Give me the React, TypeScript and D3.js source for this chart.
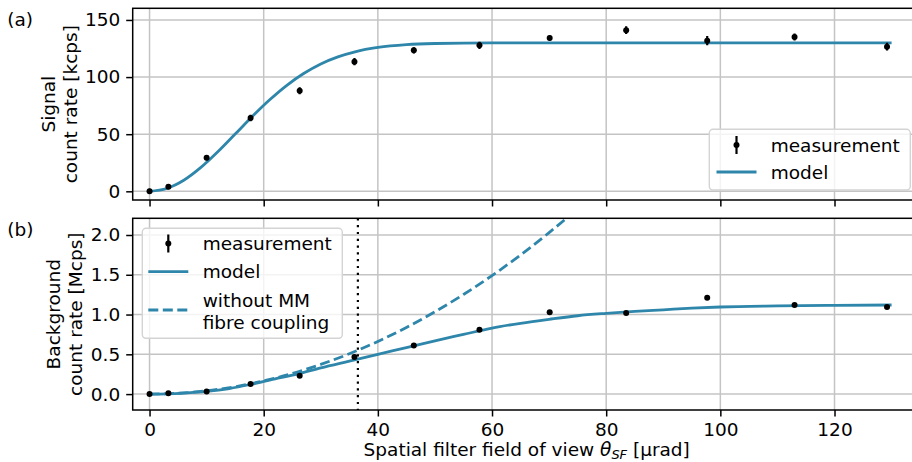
import { useEffect, useRef } from 'react';
import * as d3 from 'd3';

const W = 912, H = 462;
const FONT = '"DejaVu Sans", sans-serif';
const FS = 18.5;
const BLUE = '#2e86ab';
const GRID = '#c4c4c4';

// measurement positions (µrad) shared by both panels
const THETA = [0, 3.3, 10.0, 17.7, 26.3, 35.9, 46.3, 57.8, 70.1, 83.5, 97.7, 113.0, 129.2];
const SIGNAL = [0, 4.0, 29.4, 64.2, 88.1, 113.5, 123.4, 127.8, 134.2, 141.0, 131.9, 135.1, 126.6];
const SIGNAL_ERR = [2.2, 2.2, 2.3, 2.8, 3.1, 3.2, 2.8, 3.2, 2.2, 3.4, 4.1, 3.1, 3.4];
const BACKGROUND = [0, 0.01, 0.034, 0.126, 0.23, 0.465, 0.61, 0.809, 1.03, 1.02, 1.21, 1.12, 1.094];
const BACKGROUND_ERR = [0.004, 0.004, 0.005, 0.006, 0.007, 0.008, 0.009, 0.01, 0.01, 0.01, 0.012, 0.011, 0.011];

// model curves
const SIG_MODEL_X = [0, 3, 6, 9, 12, 15, 18, 21, 24, 27, 30, 33, 36, 40, 45, 50, 60, 70, 80, 90, 100, 110, 120, 130];
const SIG_MODEL = [0, 2.5, 9.7, 20.9, 34.8, 50.1, 65.5, 79.9, 92.6, 103.1, 111.5, 117.7, 122.1, 125.9, 128.4, 129.4, 130, 130, 130, 130, 130, 130, 130, 130];
const BG_MODEL_X = [0, 3, 6, 10, 14, 18, 22, 26, 30, 35, 40, 45, 50, 55, 60, 65, 70, 75, 80, 85, 90, 95, 100, 110, 120, 130];
const BG_MODEL = [0, 0.003, 0.012, 0.033, 0.07, 0.126, 0.19, 0.255, 0.33, 0.415, 0.5, 0.585, 0.67, 0.75, 0.83, 0.89, 0.94, 0.985, 1.015, 1.04, 1.06, 1.08, 1.095, 1.108, 1.115, 1.12];
const BG_NOMM_X = [0, 5, 10, 15, 20, 25, 30, 35, 40, 45, 50, 55, 60, 65, 70, 75];
const BG_NOMM = [0, 0.0104, 0.041, 0.093, 0.166, 0.259, 0.373, 0.507, 0.662, 0.838, 1.035, 1.252, 1.49, 1.749, 2.03, 2.33];
const FOV_LIMIT = 36.5;

const X_TICKS = [0, 20, 40, 60, 80, 100, 120];
const SIG_TICKS = [0, 50, 100, 150];
const BG_TICKS = [0, 0.5, 1.0, 1.5, 2.0];

export default function App() {
  const ref = useRef<SVGSVGElement>(null);
  useEffect(() => {
    const svg = d3.select(ref.current); svg.selectAll('*').remove();
    const L = 132.7, R = 920.7;
    const x = d3.scaleLinear().domain([-2.95, 135.1]).range([L, R]);

    const panel = (id: string, top: number, bottom: number, dom: number[], ticks: number[], fmt: (d: any) => string, xLabels: boolean) => {
      const y = d3.scaleLinear().domain(dom).range([bottom, top]);
      svg.append('clipPath').attr('id', id).append('rect')
        .attr('x', L).attr('y', top).attr('width', R - L).attr('height', bottom - top);
      const g = svg.append('g');
      g.selectAll('.gx').data(X_TICKS).join('line')
        .attr('x1', d => x(d)).attr('x2', d => x(d)).attr('y1', top).attr('y2', bottom)
        .attr('stroke', GRID).attr('stroke-width', 1.5);
      g.selectAll('.gy').data(ticks).join('line')
        .attr('x1', L).attr('x2', R).attr('y1', d => y(d)).attr('y2', d => y(d))
        .attr('stroke', GRID).attr('stroke-width', 1.5);
      const ax = svg.append('g').attr('transform', `translate(0,${bottom})`)
        .call(d3.axisBottom(x).tickValues(X_TICKS).tickSize(6.5).tickPadding(6).tickFormat(xLabels ? (d: any) => `${d}` : () => ''));
      const ay = svg.append('g').attr('transform', `translate(${L},0)`)
        .call(d3.axisLeft(y).tickValues(ticks).tickSize(6.5).tickPadding(6).tickFormat(fmt));
      [ax, ay].forEach(a => {
        a.select('.domain').remove();
        a.selectAll('line').attr('stroke', '#000').attr('stroke-width', 1.5);
        a.selectAll('text').attr('fill', '#000').attr('font-size', FS).attr('font-family', FONT);
      });
      const data = svg.append('g').attr('clip-path', `url(#${id})`);
      return { y, data };
    };

    const sig = panel('clipA', 8.3, 200, [-7.6, 160.2], SIG_TICKS, d => `${d}`, false);
    const bg = panel('clipB', 218.3, 410, [-0.2, 2.21], BG_TICKS, d => d3.format('.1f')(d), true);

    const line = (xs: number[], ys: number[], y: any) =>
      d3.line<number>().x((_, i) => x(xs[i])).y(d => y(d)).curve(d3.curveMonotoneX)(ys);

    // panel (a)
    sig.data.append('path').attr('d', line(SIG_MODEL_X, SIG_MODEL, sig.y))
      .attr('fill', 'none').attr('stroke', BLUE).attr('stroke-width', 2.8);
    sig.data.selectAll('.e').data(SIGNAL).join('line')
      .attr('x1', (_, i) => x(THETA[i])).attr('x2', (_, i) => x(THETA[i]))
      .attr('y1', (d, i) => sig.y(d - SIGNAL_ERR[i])).attr('y2', (d, i) => sig.y(d + SIGNAL_ERR[i]))
      .attr('stroke', '#000').attr('stroke-width', 2.2);
    sig.data.selectAll('.p').data(SIGNAL).join('circle')
      .attr('cx', (_, i) => x(THETA[i])).attr('cy', d => sig.y(d)).attr('r', 3).attr('fill', '#000');

    // panel (b)
    bg.data.append('line').attr('x1', x(FOV_LIMIT)).attr('x2', x(FOV_LIMIT)).attr('y1', 218.3).attr('y2', 410)
      .attr('stroke', '#000').attr('stroke-width', 2.2).attr('stroke-dasharray', '2.2,4.6');
    bg.data.append('path').attr('d', line(BG_NOMM_X, BG_NOMM, bg.y))
      .attr('fill', 'none').attr('stroke', BLUE).attr('stroke-width', 2.8).attr('stroke-dasharray', '10,4.5');
    bg.data.append('path').attr('d', line(BG_MODEL_X, BG_MODEL, bg.y))
      .attr('fill', 'none').attr('stroke', BLUE).attr('stroke-width', 2.8);
    bg.data.selectAll('.e').data(BACKGROUND).join('line')
      .attr('x1', (_, i) => x(THETA[i])).attr('x2', (_, i) => x(THETA[i]))
      .attr('y1', (d, i) => bg.y(d - BACKGROUND_ERR[i])).attr('y2', (d, i) => bg.y(d + BACKGROUND_ERR[i]))
      .attr('stroke', '#000').attr('stroke-width', 2.2);
    bg.data.selectAll('.p').data(BACKGROUND).join('circle')
      .attr('cx', (_, i) => x(THETA[i])).attr('cy', d => bg.y(d)).attr('r', 3).attr('fill', '#000');

    // spines
    [[8.3, 200], [218.3, 410]].forEach(([t, b]) =>
      svg.append('rect').attr('x', L).attr('y', t).attr('width', R - L).attr('height', b - t)
        .attr('fill', 'none').attr('stroke', '#000').attr('stroke-width', 1.5));

    const text = (s: string, tx: number, ty: number, rot = 0, anchor = 'start') =>
      svg.append('text').attr('transform', `translate(${tx},${ty}) rotate(${rot})`)
        .attr('text-anchor', anchor).attr('font-size', FS).attr('font-family', FONT).attr('fill', '#000').text(s);

    // legends
    const legend = (x0: number, y0: number, w: number, h: number) => {
      const g = svg.append('g');
      g.append('rect').attr('x', x0).attr('y', y0).attr('width', w).attr('height', h).attr('rx', 3.7)
        .attr('fill', '#fff').attr('fill-opacity', 0.8).attr('stroke', '#d4d4d4').attr('stroke-width', 1.4);
      return g;
    };
    const errHandle = (cx: number, cy: number) => {
      svg.append('line').attr('x1', cx).attr('x2', cx).attr('y1', cy - 9).attr('y2', cy + 9)
        .attr('stroke', '#000').attr('stroke-width', 2.2);
      svg.append('circle').attr('cx', cx).attr('cy', cy).attr('r', 3).attr('fill', '#000');
    };
    const lineHandle = (x0: number, cy: number, dash?: string) =>
      svg.append('line').attr('x1', x0).attr('x2', x0 + 40).attr('y1', cy).attr('y2', cy)
        .attr('stroke', BLUE).attr('stroke-width', 2.8).attr('stroke-dasharray', dash || null);

    legend(709.3, 129.3, 201, 60.7);
    errHandle(736.5, 145);
    text('measurement', 770.7, 151.5);
    lineHandle(716.5, 172);
    text('model', 770.7, 178.5);

    legend(142.3, 228.3, 200, 110);
    errHandle(168.3, 243.5);
    text('measurement', 202.7, 250);
    lineHandle(148.3, 271.7);
    text('model', 202.7, 278);
    lineHandle(148.3, 310, '10,4.5');
    text('without MM', 202.7, 306.5);
    text('fibre coupling', 202.7, 328.7);

    // labels
    text('(a)', 7.3, 25.7);
    text('(b)', 7.3, 235.5);
    text('Signal', 55.2, 104.2, -90, 'middle');
    text('count rate [kcps]', 77.4, 104.2, -90, 'middle');
    text('Background', 60.2, 314.2, -90, 'middle');
    text('count rate [Mcps]', 82.4, 314.2, -90, 'middle');

    const xl = svg.append('text').attr('x', 526.7).attr('y', 456).attr('text-anchor', 'middle')
      .attr('font-size', FS).attr('font-family', FONT).attr('fill', '#000');
    xl.append('tspan').text('Spatial filter field of view ');
    xl.append('tspan').attr('font-style', 'italic').text('θ');
    xl.append('tspan').attr('font-style', 'italic').attr('font-size', FS * 0.7).attr('dy', 3).text('SF');
    xl.append('tspan').attr('dy', -3).text(' [µrad]');
  }, []);
  return <svg ref={ref} width={W} height={H} style={{ position: 'absolute', left: 0, top: 0, background: '#fff' }} />;
}
